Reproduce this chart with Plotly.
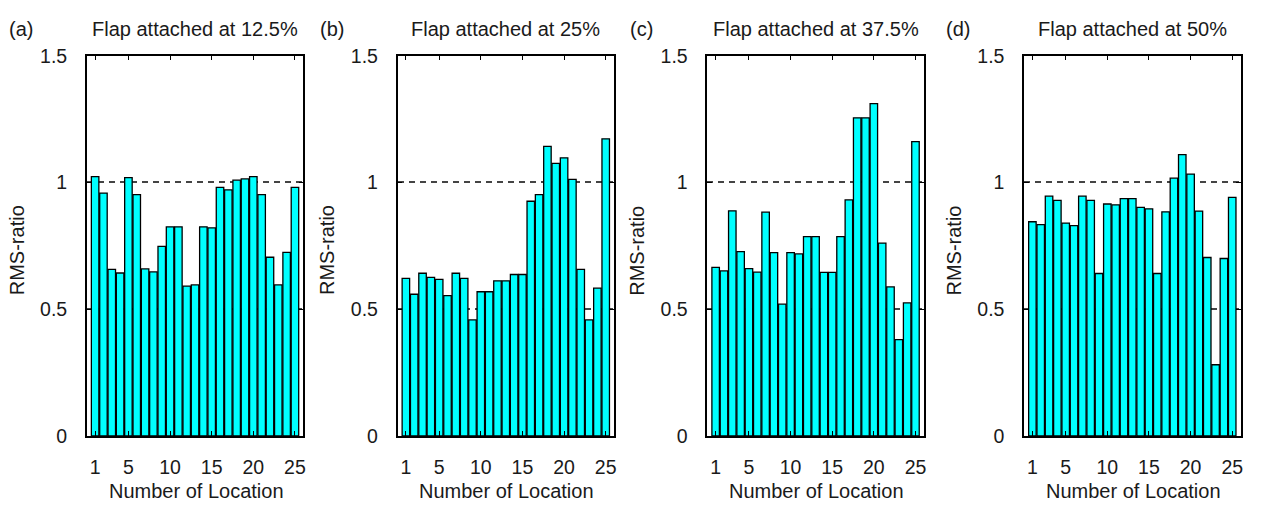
import plotly.graph_objects as go

# Measurement locations along the plate
locations = list(range(1, 26))

# RMS ratio at each location, one series per flap attachment position
rms_12_5 = [1.023, 0.958, 0.657, 0.643, 1.019, 0.952, 0.659, 0.647, 0.748, 0.825,
            0.825, 0.591, 0.596, 0.825, 0.821, 0.981, 0.971, 1.009, 1.014, 1.023,
            0.952, 0.705, 0.596, 0.724, 0.981]
rms_25 = [0.622, 0.559, 0.642, 0.626, 0.618, 0.554, 0.642, 0.622, 0.458, 0.569,
          0.569, 0.612, 0.612, 0.637, 0.637, 0.926, 0.952, 1.142, 1.075, 1.097,
          1.012, 0.657, 0.458, 0.583, 1.172]
rms_37_5 = [0.665, 0.651, 0.888, 0.727, 0.660, 0.646, 0.883, 0.723, 0.520, 0.723,
            0.718, 0.786, 0.786, 0.645, 0.645, 0.786, 0.931, 1.255, 1.255, 1.311,
            0.761, 0.588, 0.380, 0.525, 1.161]
rms_50 = [0.845, 0.834, 0.946, 0.929, 0.840, 0.830, 0.946, 0.929, 0.641, 0.915,
          0.912, 0.936, 0.936, 0.902, 0.896, 0.641, 0.884, 1.017, 1.110, 1.033,
          0.887, 0.704, 0.281, 0.700, 0.941]

panel_tags = ["(a)", "(b)", "(c)", "(d)"]
panel_titles = ["Flap attached at 12.5%", "Flap attached at 25%",
                "Flap attached at 37.5%", "Flap attached at 50%"]
x_ticks = [1, 5, 10, 15, 20, 25]
y_ticks = [0, 0.5, 1, 1.5]
y_tick_text = ["0", "0.5", "1", "1.5"]
x_title = "Number of Location"
y_title = "RMS-ratio"

series = [rms_12_5, rms_25, rms_37_5, rms_50]

# Page geometry (pixels)
W, H = 1263, 514
box_left = [87, 398.5, 709, 1026.5]
box_w = 217
box_top, box_bottom = 46.7, 444

FONT = "Liberation Sans, Arial, sans-serif"
INK = "#1a1a1a"
TEXT_SIZE = 20
TICK_SIZE = 19.5


def px_x(v):
    return v / W


def px_y(v):
    return 1 - v / H


fig = go.Figure()
layout = dict(
    width=W, height=H,
    margin=dict(l=0, r=0, t=0, b=0),
    paper_bgcolor="white", plot_bgcolor="white",
    showlegend=False,
    bargap=0.1,
    font=dict(family=FONT, size=TEXT_SIZE, color=INK),
)
annotations = []

for i, vals in enumerate(series):
    n = "" if i == 0 else str(i + 1)
    fig.add_trace(go.Bar(
        x=locations, y=vals,
        xaxis="x" + n, yaxis="y" + n,
        marker=dict(color="#00FFFF", line=dict(color="black", width=1.3)),
    ))
    x0 = px_x(box_left[i])
    x1 = px_x(box_left[i] + box_w)
    layout["xaxis" + n] = dict(
        domain=[x0, x1], anchor="y" + n, range=[0, 26],
        tickvals=x_ticks, ticks="inside", ticklen=5, tickwidth=1,
        tickcolor="black", showline=True, linecolor="black", linewidth=1.5,
        mirror="ticks", showgrid=False, zeroline=False,
        ticklabelstandoff=13, tickfont=dict(size=TICK_SIZE, color=INK),
    )
    layout["yaxis" + n] = dict(
        domain=[px_y(box_bottom), px_y(box_top)], anchor="x" + n, range=[0, 1.5],
        tickvals=y_ticks, ticktext=y_tick_text, ticks="inside", ticklen=5,
        tickwidth=1, tickcolor="black", showline=True, linecolor="black",
        linewidth=1.5, mirror="ticks", showgrid=True, gridcolor="#444444",
        griddash="6px,5px", gridwidth=1.5, zeroline=False,
        ticklabelstandoff=14, tickfont=dict(size=TICK_SIZE, color=INK),
    )
    cx = box_left[i] + box_w / 2
    annotations += [
        dict(text=panel_tags[i], x=px_x(box_left[i] - 66), y=px_y(19),
             xref="paper", yref="paper", showarrow=False,
             font=dict(size=TEXT_SIZE, color=INK), xanchor="center", yanchor="middle"),
        dict(text=panel_titles[i], x=px_x(cx), y=px_y(19),
             xref="paper", yref="paper", showarrow=False,
             font=dict(size=TEXT_SIZE, color=INK), xanchor="center", yanchor="middle"),
        dict(text=x_title, x=px_x(cx + 1), y=px_y(501),
             xref="paper", yref="paper", showarrow=False,
             font=dict(size=TEXT_SIZE, color=INK), xanchor="center", yanchor="middle"),
        dict(text=y_title, x=px_x(box_left[i] - 70), y=px_y(250),
             xref="paper", yref="paper", showarrow=False, textangle=-90,
             font=dict(size=TEXT_SIZE, color=INK), xanchor="center", yanchor="middle"),
    ]

layout["annotations"] = annotations
fig.update_layout(**layout)
fig.write_html("out.html")
